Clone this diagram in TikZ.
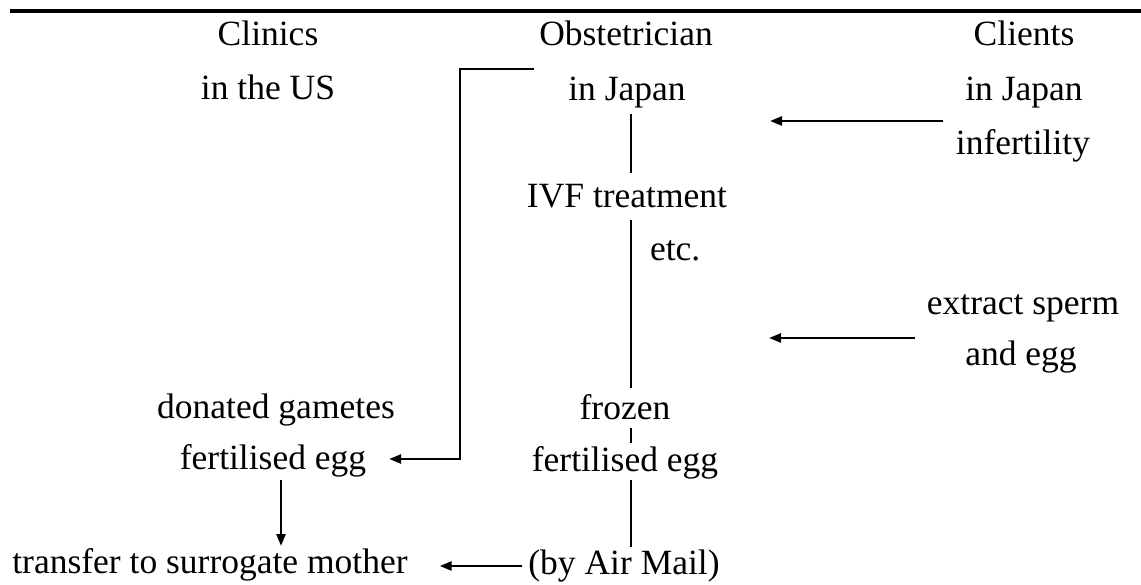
\documentclass[tikz,border=0pt]{standalone}
\usepackage{fontspec}
\setmainfont{Liberation Serif}
\usetikzlibrary{arrows.meta}
\begin{document}
\begin{tikzpicture}[x=1pt,y=-1pt,
  lbl/.style={font=\fontsize{35.5}{40}\selectfont, inner sep=0pt, outer sep=0pt,
              text height=24pt, text depth=8pt, anchor=base},
  conn/.style={line width=2.5pt},
  arr/.style={line width=2.5pt, -{Triangle[length=12pt,width=9pt]}},
  rulestyle/.style={line width=3.5pt}]
\useasboundingbox (0,0) rectangle (1141,585);
% top rule
\draw[rulestyle] (10,11) -- (1141,11);
% nodes
\node[lbl] (cl)  at (268,46)  {Clinics};
\node[lbl] (us)  at (268,100) {in the US};
\node[lbl] (ob)  at (626,46)  {Obstetrician};
\node[lbl] (jm)  at (627,101) {in Japan};
\node[lbl] (ct)  at (1024,46) {Clients};
\node[lbl] (jr)  at (1024,101) {in Japan};
\node[lbl] (inf) at (1023,155) {infertility};
\node[lbl] (ivf) at (627,208) {IVF treatment};
\node[lbl,anchor=base west] (etc) at (650,261) {etc.};
\node[lbl] (ext) at (1023,315) {extract sperm};
\node[lbl] (and) at (1021,366) {and egg};
\node[lbl] (don) at (276,418) {donated gametes};
\node[lbl] (fro) at (625,419) {frozen};
\node[lbl] (fe1) at (273,469) {fertilised egg};
\node[lbl] (fe2) at (625,471) {fertilised egg};
\node[lbl] (tr)  at (210,573) {transfer to surrogate mother};
\node[lbl] (air) at (624,574) {(by Air Mail)};
% helper coordinates
\coordinate (vx) at (631,0);
\coordinate (dx) at (281,0);
\coordinate (b0) at (534,69);
\coordinate (b1) at (460,69);
\coordinate (b2) at (460,459);
\coordinate (a1s) at (943,121);
\coordinate (a1e) at (770,121);
\coordinate (a2s) at (915,338);
\coordinate (a2e) at (769,338);
% middle column
\draw[conn,shorten <=5pt,shorten >=11pt] (jm.south -| vx) -- (ivf.north -| vx);
\draw[conn,shorten <=4pt,shorten >=7pt] (ivf.south -| vx) -- (fro.north -| vx);
\draw[conn,shorten <=1pt,shorten >=4pt] (fro.south -| vx) -- (fe2.north -| vx);
\draw[conn,shorten <=1pt,shorten >=3pt] (fe2.south -| vx) -- (air.north -| vx);
% bracket to clinics
\draw[arr] (b0) -- (b1) -- (b2) -- ([xshift=23pt]fe1.east |- b2);
% left down arrow
\draw[arr,shorten <=3pt,shorten >=3pt] (fe1.south -| dx) -- (tr.north -| dx);
% right arrows
\draw[arr] (a1s) -- (a1e);
\draw[arr] (a2s) -- (a2e);
% bottom arrow
\draw[arr,shorten <=6pt,shorten >=32pt] (air.west) -- (tr.east |- air.west);
\end{tikzpicture}
\end{document}
